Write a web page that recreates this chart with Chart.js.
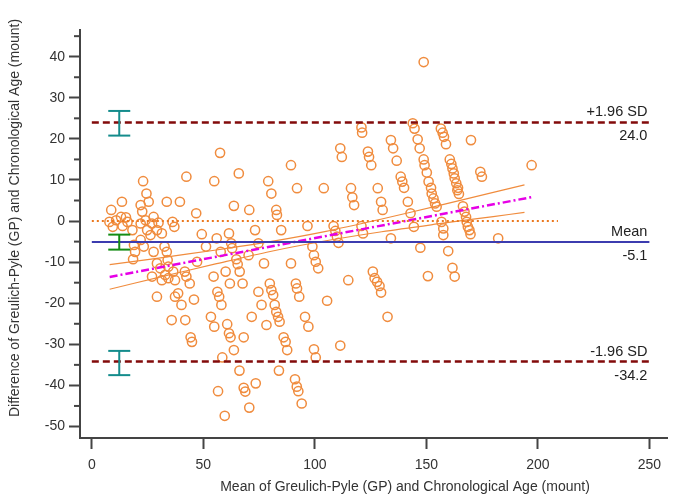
<!DOCTYPE html>
<html>
<head>
<meta charset="utf-8">
<script src="https://cdn.jsdelivr.net/npm/chart.js"></script>
<style>
  html, body { margin: 0; padding: 0; background: #fff; }
</style>
</head>
<body>
<canvas id="grafico" width="680" height="501"></canvas>
<script>
// Média de GP e idade cronológica (eixo x)
const meanVals = [
  23.0, 42.4, 54.9, 57.5, 65.9, 79.1, 148.8, 143.9, 144.7, 120.9,
  121.2, 156.5, 157.3, 157.9, 158.8, 146.1, 147.0, 134.1, 135.1, 111.4,
  112.1, 123.8, 124.3, 125.3, 136.7, 148.8, 149.2, 150.2, 151.0, 152.1,
  160.5, 161.2, 161.7, 162.3, 162.7, 163.4, 164.2, 138.5, 139.2, 140.0,
  89.3, 92.0, 104.0, 116.2, 128.2, 170.0, 197.2, 174.2, 174.9,
  24.5, 13.5, 8.7, 21.9, 22.6, 25.5, 33.6, 39.5, 46.8, 63.7,
  70.6, 80.5, 7.9, 10.9, 13.1, 15.3, 16.0, 9.4, 13.8, 18.2,
  21.9, 24.1, 27.7, 27.0, 29.9, 24.8, 26.3, 31.4, 29.2, 36.2,
  37.0, 21.9, 18.9, 19.4, 18.5, 23.3, 27.7, 32.6, 33.6, 34.0,
  29.2, 30.7, 34.3, 36.5, 32.9, 27.0, 31.4, 34.3, 37.3, 29.2,
  38.7, 37.3, 40.2, 41.7, 42.4, 43.9, 45.8, 47.2, 49.3, 51.2,
  54.6, 56.3, 57.1, 58.1, 56.0, 57.8, 60.0, 61.5, 62.5, 62.9,
  64.8, 65.4, 66.3, 61.9, 67.6, 70.3, 73.2, 74.7, 74.7, 77.2,
  76.1, 53.4, 54.9, 60.7, 35.8, 41.9, 71.7, 78.3,
  61.5, 62.2, 68.1, 44.3, 44.9, 63.7, 58.5, 66.2, 73.5, 68.1,
  68.8, 56.6, 70.6, 59.6,
  116.8, 117.6, 129.7, 130.4, 141.7, 152.4, 153.2, 153.9, 154.6, 142.9,
  144.4, 156.8, 157.6, 157.6, 163.9, 84.9, 82.7, 83.0, 96.7, 108.4,
  109.2, 109.9, 110.6, 120.9, 121.6, 134.1, 147.3, 150.7, 98.9, 99.6,
  100.4, 101.5, 89.3, 115.0, 126.0, 126.8, 127.9, 129.0, 129.7, 79.8,
  80.5, 81.3, 82.0, 82.7, 83.5, 84.2, 91.5, 92.0, 93.0, 105.5,
  95.6, 97.1, 132.6,
  164.6, 166.4, 167.1, 167.8, 168.1, 168.6, 169.3, 169.8, 182.2, 159.8,
  161.7, 162.7,
  86.0, 86.9, 87.6, 99.6, 100.4, 111.4, 83.9, 91.1, 91.9, 92.6, 94.1
];
// Diferença GP - idade cronológica (eixo y)
const diffVals = [
  9.7, 10.8, 9.7, 16.6, 11.6, 9.7, 38.7, 23.8, 22.5, 22.8,
  21.5, 22.5, 21.5, 20.5, 18.7, 19.9, 17.7, 19.7, 17.7, 17.7,
  15.6, 16.9, 15.6, 13.6, 14.7, 15.0, 13.6, 11.8, 9.6, 8.1,
  15.0, 13.9, 12.8, 11.6, 10.4, 9.2, 8.1, 10.8, 9.6, 8.1,
  13.6, 8.0, 8.0, 8.0, 8.0, 19.7, 13.6, 12.0, 10.8,
  6.7, 4.7, 2.7, 3.9, 2.3, 4.7, 4.7, 4.7, 1.9, 3.7,
  2.7, 6.7, -0.2, 0.2, 1.0, 0.9, -0.2, -1.4, -1.2, -2.2,
  -0.6, 0.2, 1.0, -0.6, -0.4, -2.2, -3.4, -3.0, -2.2, -0.2,
  -1.4, -4.6, -5.8, -7.5, -9.3, -6.2, -7.5, -6.2, -7.5, -9.5,
  -10.3, -11.5, -11.1, -12.3, -13.1, -13.5, -14.4, -13.9, -14.4, -18.4,
  -17.6, -18.4, -20.4, -12.3, -13.5, -15.2, -19.1, -9.9, -3.2, -6.2,
  -13.5, -17.2, -18.4, -20.4, -4.2, -7.5, -12.3, -3.0, -5.4, -6.6,
  -9.3, -10.5, -12.3, -15.2, -15.2, -8.3, -2.2, -5.4, -17.2, -10.3,
  -20.4, -23.3, -25.7, -25.1, -24.1, -24.1, -23.3, -25.3,
  -27.3, -28.3, -28.3, -28.3, -29.4, -31.4, -33.2, -36.4, -39.5, -40.6,
  -41.5, -41.4, -45.4, -47.4,
  5.8, 3.9, 4.7, 2.7, 4.7, 6.7, 5.5, 4.3, 3.5, 1.9,
  -1.4, -0.2, -1.8, -3.4, 7.5, -2.2, 2.7, 1.5, -1.2, -1.2,
  -2.4, -3.8, -5.3, -1.2, -3.0, -4.2, -6.5, -13.4, -6.2, -8.3,
  -9.9, -11.5, -10.3, -14.4, -12.3, -13.9, -14.8, -15.8, -17.4, -15.2,
  -16.8, -18.0, -20.4, -22.1, -23.3, -24.5, -15.2, -16.4, -18.4, -19.4,
  -23.3, -25.7, -23.3,
  6.6, 3.6, 2.3, 1.0, -0.2, -1.4, -2.2, -3.2, -4.2, -7.3,
  -11.4, -13.5,
  -28.3, -29.4, -31.4, -31.2, -33.2, -30.3, -36.4, -38.5, -40.3, -41.4, -44.4
];

// Limites de concordância e média
const meanDiff = -5.1;
const upperLoA = 24.0;
const lowerLoA = -34.2;
const loaRange = [0, 250];
const zeroRange = [0, 209];

// Regressão e intervalo de confiança
const regX = [8, 197];
const regY = [-13.6, 5.8];
const ciX = [8, 30, 55, 80, 105, 130, 155, 180, 194];
const ciUpper = [-10.6, -9.0, -7.1, -5.0, -2.5, 0.5, 3.7, 7.0, 8.8];
const ciLower = [-16.6, -13.7, -10.5, -7.4, -4.8, -2.6, -0.7, 1.1, 2.1];

// Barras de erro (IC dos limites e da média)
const errX = 12.3;
const errUpper = [20.8, 26.8];
const errMean = [-6.95, -3.3];
const errLower = [-37.5, -31.6];

const xTicks = [0, 50, 100, 150, 200, 250];
const yTicks = [-50, -40, -30, -20, -10, 0, 10, 20, 30, 40];
const yMinor = [-45, -35, -25, -15, -5, 5, 15, 25, 35, 45];

const FONTE = '"Liberation Sans", Arial, sans-serif';
const LARANJA = 'rgb(240,140,62)';

function linha(xs, ys, cor, largura, dash) {
  return {
    type: 'scatter',
    data: xs.map((x, i) => ({ x: x, y: ys[i] })),
    showLine: true,
    borderColor: cor,
    borderWidth: largura,
    borderDash: dash || [],
    pointRadius: 0,
    fill: false,
    order: 1
  };
}

function barraErro(valores, cor) {
  return {
    type: 'scatter',
    data: valores.map(v => ({ x: errX, y: v })),
    showLine: true,
    borderColor: cor,
    borderWidth: 2,
    pointStyle: 'line',
    pointRadius: 11,
    pointBorderColor: cor,
    pointBorderWidth: 2,
    order: 0
  };
}

// Rótulos, títulos e ticks menores
const extras = {
  id: 'extras',
  afterDraw(chart) {
    const ctx = chart.ctx;
    const xs = chart.scales.x;
    const ys = chart.scales.y;
    const area = chart.chartArea;
    ctx.save();

    ctx.strokeStyle = '#444';
    ctx.lineWidth = 2;
    yMinor.forEach(v => {
      const py = ys.getPixelForValue(v);
      if (py < area.top || py > area.bottom) return;
      ctx.beginPath();
      ctx.moveTo(area.left - 6, py);
      ctx.lineTo(area.left, py);
      ctx.stroke();
    });

    ctx.fillStyle = '#222';
    ctx.font = '14.5px ' + FONTE;
    ctx.textAlign = 'right';
    ctx.textBaseline = 'middle';
    const xr = xs.getPixelForValue(loaRange[1]) - 2;
    [['+1.96 SD', upperLoA], ['Mean', meanDiff], ['-1.96 SD', lowerLoA]].forEach(([txt, v]) => {
      const py = ys.getPixelForValue(v);
      ctx.fillText(txt, xr, py - 10);
      ctx.fillText(v.toFixed(1), xr, py + 14);
    });

    ctx.fillStyle = '#333';
    ctx.font = '14px ' + FONTE;
    ctx.textAlign = 'center';
    ctx.fillText('Mean of Greulich-Pyle (GP) and Chronological Age (mount)', 405, 487);
    ctx.translate(15, 218);
    ctx.rotate(-Math.PI / 2);
    ctx.fillText('Difference of Greulich-Pyle (GP) and Chronological Age (mount)', 0, 0);
    ctx.restore();
  }
};

const pontos = meanVals.map((x, i) => ({ x: x, y: diffVals[i] }));

new Chart(document.getElementById('grafico'), {
  type: 'scatter',
  data: {
    datasets: [
      {
        data: pontos,
        pointRadius: 4.6,
        pointBorderWidth: 1.5,
        borderColor: LARANJA,
        backgroundColor: 'rgba(0,0,0,0)',
        order: 10
      },
      linha(loaRange, [upperLoA, upperLoA], 'rgb(130,10,10)', 2.5, [7, 4]),
      linha(loaRange, [meanDiff, meanDiff], 'rgb(60,60,175)', 2),
      linha(loaRange, [lowerLoA, lowerLoA], 'rgb(130,10,10)', 2.5, [7, 4]),
      linha(zeroRange, [0, 0], 'rgb(235,120,30)', 2, [2, 3]),
      linha(regX, regY, 'rgb(230,0,230)', 2.5, [8, 3, 2, 3]),
      Object.assign(linha(ciX, ciUpper, LARANJA, 1.2), { tension: 0.3 }),
      Object.assign(linha(ciX, ciLower, LARANJA, 1.2), { tension: 0.3 }),
      barraErro(errUpper, 'rgb(20,140,140)'),
      barraErro(errMean, 'rgb(20,140,20)'),
      barraErro(errLower, 'rgb(20,140,140)')
    ]
  },
  options: {
    responsive: false,
    animation: false,
    events: [],
    layout: { padding: { top: 30, right: 2, left: 0, bottom: 0 } },
    plugins: { legend: { display: false }, tooltip: { enabled: false } },
    scales: {
      x: {
        type: 'linear',
        min: -5.3,
        max: 257.9,
        afterBuildTicks: s => { s.ticks = xTicks.map(v => ({ value: v })); },
        afterFit: s => { s.height = 63; },
        ticks: { color: '#333', font: { size: 14, family: FONTE }, padding: 8 },
        grid: { drawOnChartArea: false, tickLength: 11, tickColor: '#444', tickWidth: 2 },
        border: { color: '#444', width: 2 }
      },
      y: {
        type: 'linear',
        min: -52.8,
        max: 46.5,
        afterBuildTicks: s => { s.ticks = yTicks.map(v => ({ value: v })); },
        afterFit: s => { s.width = 80; },
        ticks: { color: '#333', font: { size: 14, family: FONTE }, padding: 4 },
        grid: { drawOnChartArea: false, tickLength: 11, tickColor: '#444', tickWidth: 2 },
        border: { color: '#444', width: 2 }
      }
    }
  },
  plugins: [extras]
});
</script>
</body>
</html>
